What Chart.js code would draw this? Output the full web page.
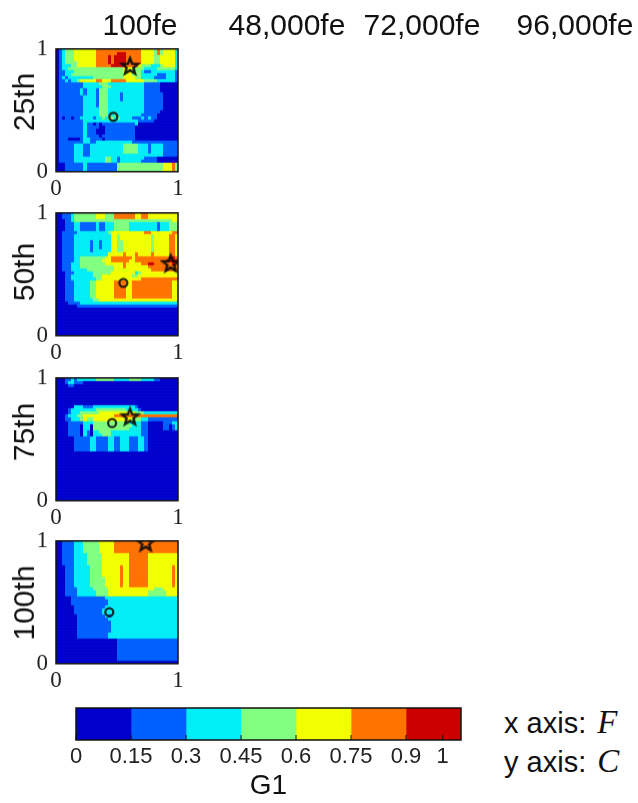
<!DOCTYPE html>
<html>
<head>
<meta charset="utf-8">
<title>G1</title>
<script src="https://cdn.jsdelivr.net/npm/chart.js@4"></script>
<style>
  html, body { margin: 0; padding: 0; background: #fff; }
  body { position: relative; width: 638px; height: 803px; overflow: hidden; font-family: "Liberation Sans", sans-serif; color: #111; }
  canvas { position: absolute; }
  .txt { position: absolute; font-size: 30px; line-height: 32px; white-space: nowrap; }
  .rot { transform: translate(-50%, -50%) rotate(-90deg); }
  .mid { transform: translateX(-50%); }
  .small { font-size: 29px; }
  .math { font-family: "Liberation Serif", serif; font-style: italic; font-size: 33px; padding-left: 3px; }
</style>
</head>
<body>
<script>
// =========================
// DATA
// =========================

const columnTitles = ["100fe", "48,000fe", "72,000fe", "96,000fe"];
const rowTitles = ["25th", "50th", "75th", "100th"];

// colour bands of the bar
const bandEdges = [0, 0.15, 0.3, 0.45, 0.6, 0.75, 0.9, 1.05];
const bandColors = ["#0000cd", "#0060ff", "#00eef5", "#80ff80", "#f2ff00", "#ff7300", "#cd0000"];
const barTicks = [0, 0.15, 0.3, 0.45, 0.6, 0.75, 0.9, 1];

// band index per cell, top row is C = 1, left column is F = 0
const grid25th = [
  "0123334444 4445555555 5555555544 4435344442",
  "0123334444 4445555555 6665555544 4435344442",
  "0123334444 4445555656 6665555544 4433444442",
  "0123334444 4445555656 6665555544 4433444442",
  "0123333444 4445555656 6665555544 4433444442",
  "0122233444 4445555566 6665555433 3222344442",
  "0122333333 3333333333 3344433332 2223333332",
  "0112223333 3333333333 3344433321 1222222221",
  "0112233333 3333333333 3344433322 2221112221",
  "0121222222 2233333333 3344443322 2211112221",
  "0112122344 4445544455 5554444443 3332222221",
  "0111111112 2222333222 2222222221 1111000000",
  "0111111112 2222233322 2222222221 1111000000",
  "0111111121 2221333222 2222222221 1111000000",
  "0111111121 2221333222 2122222221 1111100000",
  "0111111112 2221333222 2122222221 1111100000",
  "0111111112 2221333222 2122222221 1111100000",
  "0111111112 2221333222 2222222221 1111100000",
  "0111111112 2221333222 2222222221 1111100000",
  "0111111112 2222333222 2222222221 1111100000",
  "0111111112 2222333222 2222222221 1111000000",
  "0111111112 2222333223 2222222211 1110000000",
  "0101101122 2212232332 3222211121 2110000000",
  "0111111112 2222222222 2222222111 1100000000",
  "0111111112 1101011111 1111112000 0000000000",
  "0111111112 1111001111 1111110000 0000000000",
  "0111111112 1110001111 1111110000 0000000000",
  "0111111112 1110001111 1111110000 0000000000",
  "0111111112 1111011111 1111110000 0000000000",
  "0111000012 2111101111 1111110000 0000000000",
  "0111111112 2112222222 2222211111 1111111111",
  "0111112221 1222222222 2233333222 1222211111",
  "0111112221 1222222222 2233333222 1222211111",
  "0111112221 1222222222 2233333222 1222211111",
  "0111112221 1222222222 2222222222 2222211111",
  "0111112222 2222223322 1222222221 1110000000",
  "0111112222 2222223322 1222222211 1110000000",
  "0001111112 1111111111 3333333333 3333344453",
  "0001111112 1111111111 3333333333 3333344453",
  "0001111112 1111111111 3333333333 3333344453",
];

const grid50th = [
  "0011123333 3334443335 5555554455 4444444444",
  "0011123333 3334443335 5555554455 4444444444",
  "0001123333 3333333333 3333333333 3333333344",
  "0001112211 1112112223 3333222222 2221222333",
  "0001112211 1112112223 3333222222 2221222333",
  "0001112211 1112112223 3333222222 2221222333",
  "0011111222 2222222344 4444444445 5444444455",
  "0011112222 2222222244 3444444444 4344444554",
  "0011112222 2222222244 3444444444 4344444554",
  "0011112222 2122122244 3344444444 4344444554",
  "0011112222 2122122244 3344444444 4344444554",
  "0011112222 2122122244 3344444444 4344444554",
  "0011112222 2122222244 3344444444 4344444554",
  "0011112222 2222222444 4454445444 4544444554",
  "0011112233 3333334455 5555545555 5555555665",
  "0011112233 3333344455 5555445555 5555556666",
  "0011122233 3333334444 4454444455 6655555565",
  "0011122233 3333333334 4454444444 5555555555",
  "0011122222 3333333334 4444444444 4555555555",
  "0001112222 2233333344 4444442344 4444444444",
  "0001122222 2233344444 4444433444 4444444444",
  "0001122222 2223344444 4444444455 5555555555",
  "0001112222 2334444445 5554455555 5555555544",
  "0001112222 2334444445 5554455555 5555555544",
  "0001112222 2334444445 5554455555 5555555544",
  "0001112222 2334444445 5554455555 5555555544",
  "0001112222 2334444445 5554455555 5555555544",
  "0001112222 2334444445 5554455555 5555555544",
  "0001112222 2233444444 4444444444 4444444444",
  "0000111122 2222222222 2222222222 2222222222",
  "0000000111 1111111111 1111111111 1111111111",
  "0000000000 0000000000 0000000000 0000000000",
  "0000000000 0000000000 0000000000 0000000000",
  "0000000000 0000000000 0000000000 0000000000",
  "0000000000 0000000000 0000000000 0000000000",
  "0000000000 0000000000 0000000000 0000000000",
  "0000000000 0000000000 0000000000 0000000000",
  "0000000000 0000000000 0000000000 0000000000",
  "0000000000 0000000000 0000000000 0000000000",
  "0000000000 0000000000 0000000000 0000000000",
];

const grid75th = [
  "0001121222 2223333332 2222333322 2211000000",
  "0001221110 0000000000 0000000000 0000000000",
  "0000110000 0000000000 0000000000 0000000000",
  "0000000000 0000000000 0000000000 0000000000",
  "0000000000 0000000000 0000000000 0000000000",
  "0000000000 0000000000 0000000000 0000000000",
  "0000000000 0000000000 0000000000 0000000000",
  "0000000000 0000000000 0000000000 0000000000",
  "0000000000 0000000000 0000000000 0000000000",
  "0000002221 1122222222 2222221000 0000000000",
  "0000122222 2223333333 3332222100 0000000000",
  "0000122233 3333444444 4444443332 2222222222",
  "0001222334 4444444445 5555555555 5555555555",
  "0001122234 3344444444 4444433322 1111111111",
  "0000111112 2233333333 3333222211 0000011122",
  "0000111102 2033333333 3333322211 0000011012",
  "0000111102 2033333333 3333222211 0000011012",
  "0000111102 1022333322 2222222211 0000000000",
  "0000111102 1022233322 2222222211 0000000000",
  "0000001111 1221111221 1222111221 0000000000",
  "0000001111 1221111221 1222111221 0000000000",
  "0000001111 1221111221 1222111221 0000000000",
  "0000001111 1221111221 1222111221 0000000000",
  "0000001111 1221111221 1222111221 0000000000",
  "0000000000 0000000000 0000000000 0000000000",
  "0000000000 0000000000 0000000000 0000000000",
  "0000000000 0000000000 0000000000 0000000000",
  "0000000000 0000000000 0000000000 0000000000",
  "0000000000 0000000000 0000000000 0000000000",
  "0000000000 0000000000 0000000000 0000000000",
  "0000000000 0000000000 0000000000 0000000000",
  "0000000000 0000000000 0000000000 0000000000",
  "0000000000 0000000000 0000000000 0000000000",
  "0000000000 0000000000 0000000000 0000000000",
  "0000000000 0000000000 0000000000 0000000000",
  "0000000000 0000000000 0000000000 0000000000",
  "0000000000 0000000000 0000000000 0000000000",
  "0000000000 0000000000 0000000000 0000000000",
  "0000000000 0000000000 0000000000 0000000000",
  "0000000000 0000000000 0000000000 0000000000",
];

const grid100th = [
  "0011112223 3333444445 5555555555 5555555555",
  "0011112223 3333444445 5555555555 5555555555",
  "0011112223 3333444445 5555555555 5555555555",
  "0011112223 3333444445 5555555555 5555555555",
  "0011112222 3333344444 4444555555 4444444444",
  "0011112222 3333344444 4444555555 4444444444",
  "0011112222 3333344444 4444555555 4444444444",
  "0011112222 3333344444 4444555555 4444444444",
  "0001112222 2333344444 4544555555 4444444454",
  "0001112222 2333344444 4544555555 4444444454",
  "0001112222 2333344444 4544555555 4444444454",
  "0001112222 2333344444 4544555555 4444444454",
  "0001112222 2333334444 4544555555 4444444454",
  "0001112222 2333334444 4544555555 4444444454",
  "0001112222 2333334444 4544555555 4444444454",
  "0001111222 2233333444 4444444444 4433344444",
  "0001111222 2223333444 4444444444 3333334444",
  "0001111222 2223333444 4444444444 3333334444",
  "0000011111 1111112222 2222222222 2222222222",
  "0000011111 1111111222 2222222222 2222222222",
  "0000011111 1111111222 2222222222 2222222222",
  "0000001111 1111112222 2222222222 2222222222",
  "0000001111 1111122222 2222222222 2222222222",
  "0000001111 1111122222 2222222222 2222222222",
  "0000000111 1111112122 2222222222 2222222222",
  "0000000111 1111111222 2222222222 2222222222",
  "0000000111 1111111122 2222222222 2222222222",
  "0000000111 1111111122 2222222222 2222222222",
  "0000000111 1111111122 2222222222 2222222222",
  "0000000111 1111111122 2222222222 2222222222",
  "0000000111 1111111222 2222222222 2222222222",
  "0000000111 1111111222 2222222222 2222222222",
  "0000000000 0000000000 1111111111 1111111111",
  "0000000000 0000000000 1111111111 1111111111",
  "0000000000 0000000000 1111111111 1111111111",
  "0000000000 0000000000 1111111111 1111111111",
  "0000000000 0000000000 1111111111 1111111111",
  "0000000000 0000000000 1111111111 1111111111",
  "0000000000 0000000000 1111111111 1111111111",
  "0000000000 0000000000 0000000000 0000000000",
];

const grids = [grid25th, grid50th, grid75th, grid100th];

// [F, C] of the markers
const circlePoints = [[0.47, 0.447], [0.552, 0.43], [0.46, 0.632], [0.437, 0.42]];
const starPoints = [[0.607, 0.86], [0.94, 0.588], [0.607, 0.684], [0.735, 0.986]];

// =========================
// HELPERS
// =========================

const panelTops = [49, 213, 378, 541];
const panelSize = 122;
const rowTitleCentres = [102, 272, 432, 603];
const serif = '"Liberation Serif", serif';
const sans = '"Liberation Sans", sans-serif';

Chart.defaults.animation = false;

function addText(html, x, y, cls) {
  const el = document.createElement("div");
  el.className = "txt " + (cls || "");
  el.style.left = x + "px";
  el.style.top = y + "px";
  el.innerHTML = html;
  document.body.appendChild(el);
}

function addCanvas(left, top, width, height) {
  const canvas = document.createElement("canvas");
  canvas.width = width;
  canvas.height = height;
  canvas.style.left = left + "px";
  canvas.style.top = top + "px";
  document.body.appendChild(canvas);
  return canvas;
}

// five point star, outline only
function makeStar() {
  const c = document.createElement("canvas");
  c.width = 22;
  c.height = 22;
  const g = c.getContext("2d");
  g.strokeStyle = "rgba(10,10,10,0.9)";
  g.lineWidth = 2.5;
  g.lineJoin = "miter";
  g.beginPath();
  for (let i = 0; i < 10; i++) {
    const r = i % 2 ? 3.6 : 8.4;
    const a = -Math.PI / 2 + (i * Math.PI) / 5;
    g.lineTo(11 + r * Math.cos(a), 11.5 + r * Math.sin(a));
  }
  g.closePath();
  g.stroke();
  return c;
}

const heatmapPlugin = {
  id: "heatmap",
  beforeDatasetsDraw(chart, args, opts) {
    const { ctx, scales, chartArea: a } = chart;
    const rows = opts.rows.map((r) => r.replace(/ /g, ""));
    const off = document.createElement("canvas");
    off.width = a.right - a.left;
    off.height = a.bottom - a.top;
    const g = off.getContext("2d");
    rows.forEach((row, r) => {
      const y0 = Math.round(scales.y.getPixelForValue(1 - r / rows.length));
      const y1 = Math.round(scales.y.getPixelForValue(1 - (r + 1) / rows.length));
      for (let c = 0; c < row.length; c++) {
        const x0 = Math.round(scales.x.getPixelForValue(c / row.length));
        const x1 = Math.round(scales.x.getPixelForValue((c + 1) / row.length));
        g.fillStyle = bandColors[+row[c]];
        g.fillRect(x0 - a.left, y0 - a.top, x1 - x0, y1 - y0);
      }
    });
    // the original is a slightly soft raster
    ctx.save();
    ctx.beginPath();
    ctx.rect(a.left, a.top, off.width, off.height);
    ctx.clip();
    ctx.drawImage(off, a.left, a.top);
    ctx.filter = "blur(0.7px)";
    ctx.drawImage(off, a.left, a.top);
    ctx.restore();
  },
};

const framePlugin = {
  id: "frame",
  afterDraw(chart) {
    const { ctx, chartArea: a } = chart;
    ctx.save();
    ctx.strokeStyle = "#111";
    ctx.lineWidth = 1.5;
    ctx.strokeRect(a.left, a.top, a.right - a.left, a.bottom - a.top);
    ctx.restore();
  },
};

// =========================
// PANELS
// =========================

const star = makeStar();

grids.forEach((rows, i) => {
  const canvas = addCanvas(0, panelTops[i] - 20, 200, panelSize + 50);
  const chart = new Chart(canvas, {
    type: "scatter",
    data: {
      datasets: [
        {
          data: [{ x: circlePoints[i][0], y: circlePoints[i][1] }],
          pointStyle: "circle",
          pointRadius: 4,
          borderColor: "rgba(10,10,10,0.85)",
          backgroundColor: "rgba(0,0,0,0)",
          borderWidth: 2.3,
        },
        {
          data: [{ x: starPoints[i][0], y: starPoints[i][1] }],
          pointStyle: star,
          clip: 0,
        },
      ],
    },
    options: {
      responsive: false,
      maintainAspectRatio: false,
      layout: { padding: { top: 20, right: 22 } },
      plugins: { legend: { display: false }, tooltip: { enabled: false }, heatmap: { rows } },
      scales: {
        x: {
          min: 0,
          max: 1,
          grid: { display: false, drawTicks: false },
          border: { display: false },
          ticks: {
            stepSize: 1,
            padding: 3,
            maxRotation: 0,
            color: "#222",
            font: { family: serif, size: 23 },
          },
          afterFit(s) { s.height = 30; },
        },
        y: {
          min: 0,
          max: 1,
          grid: { display: false, drawTicks: false },
          border: { display: false },
          ticks: {
            stepSize: 1,
            padding: 8,
            color: "#222",
            font: { family: serif, size: 23 },
          },
          afterFit(s) { s.width = 56; },
        },
      },
    },
    plugins: [heatmapPlugin, framePlugin],
  });

  // put the plot area exactly on the panel box
  const areaTop = chart.chartArea.top;
  const below = chart.height - chart.chartArea.bottom;
  canvas.style.top = panelTops[i] - areaTop + "px";
  chart.resize(200, areaTop + panelSize + below);

  addText(rowTitles[i], 24, rowTitleCentres[i], "rot");
});

// =========================
// COLOUR BAR
// =========================

const barTickPlugin = {
  id: "barTicks",
  afterDraw(chart) {
    const { ctx, chartArea: a, scales } = chart;
    ctx.save();
    ctx.strokeStyle = "#111";
    ctx.lineWidth = 1;
    barTicks.forEach((v) => {
      const x = scales.x.getPixelForValue(v);
      ctx.beginPath();
      ctx.moveTo(x, a.bottom);
      ctx.lineTo(x, a.bottom - 5);
      ctx.stroke();
    });
    ctx.restore();
  },
};

new Chart(addCanvas(50, 698, 440, 105), {
  type: "bar",
  data: {
    labels: ["G1"],
    datasets: bandColors.map((color, i) => ({
      data: [[bandEdges[i], bandEdges[i + 1]]],
      backgroundColor: color,
      barPercentage: 1,
      categoryPercentage: 1,
      grouped: false,
    })),
  },
  options: {
    indexAxis: "y",
    responsive: false,
    layout: { padding: { top: 10, left: 26, right: 29 } },
    plugins: { legend: { display: false }, tooltip: { enabled: false } },
    scales: {
      x: {
        min: 0,
        max: 1.05,
        grid: { display: false, drawTicks: false },
        border: { display: false },
        afterBuildTicks(s) { s.ticks = barTicks.map((value) => ({ value })); },
        ticks: {
          autoSkip: false,
          maxRotation: 0,
          padding: 4,
          color: "#222",
          font: { family: sans, size: 22 },
          callback: (v) => String(v),
        },
        title: {
          display: true,
          text: "G1",
          color: "#111",
          padding: { top: 2, bottom: 0 },
          font: { family: sans, size: 28, weight: "normal" },
        },
        afterFit(s) { s.height = 63; },
      },
      y: { display: false },
    },
  },
  plugins: [barTickPlugin, framePlugin],
});

// =========================
// TEXTS
// =========================

const titleCentres = [140, 287, 422, 575];
columnTitles.forEach((t, i) => addText(t, titleCentres[i], 9, "mid"));

addText('x axis: <span class="math">F</span>', 504, 706, "small");
addText('y axis: <span class="math">C</span>', 504, 745, "small");
</script>
</body>
</html>
